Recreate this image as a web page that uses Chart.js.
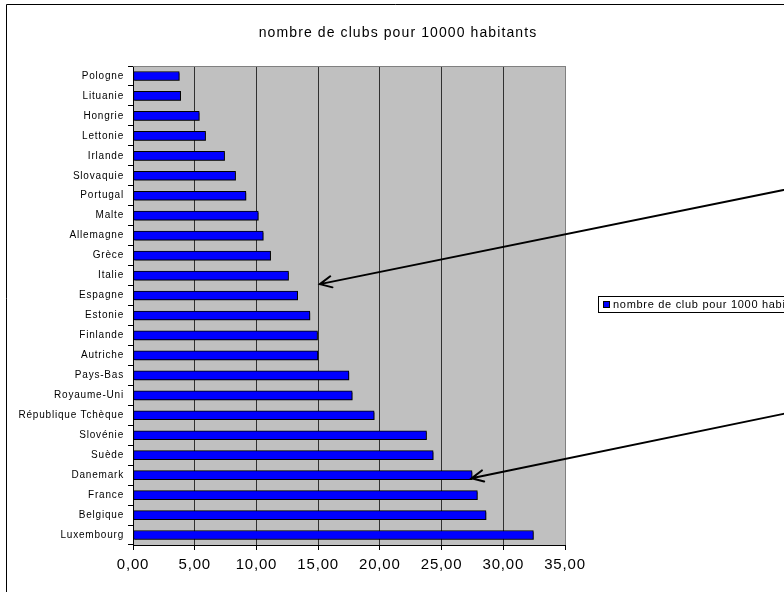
<!DOCTYPE html>
<html>
<head>
<meta charset="utf-8">
<script src="https://cdn.jsdelivr.net/npm/chart.js"></script>
<style>
  html, body { margin: 0; padding: 0; background: #fff; overflow: hidden; }
  #wrap { width: 784px; height: 592px; position: relative; }
</style>
</head>
<body>
<div id="wrap"><canvas id="chart" width="784" height="592"></canvas></div>
<script>
// Données (de haut en bas)
const pays = ['Pologne', 'Lituanie', 'Hongrie', 'Lettonie', 'Irlande', 'Slovaquie', 'Portugal', 'Malte',
  'Allemagne', 'Grèce', 'Italie', 'Espagne', 'Estonie', 'Finlande', 'Autriche', 'Pays-Bas',
  'Royaume-Uni', 'République Tchèque', 'Slovénie', 'Suède', 'Danemark', 'France', 'Belgique', 'Luxembourg'];
const clubs = [3.75, 3.86, 5.37, 5.88, 7.42, 8.31, 9.15, 10.15,
  10.55, 11.15, 12.6, 13.34, 14.33, 14.95, 14.98, 17.49,
  17.76, 19.54, 23.78, 24.32, 27.47, 27.9, 28.6, 32.44];
const titre = 'nombre de clubs pour 10000 habitants';
const serieLabel = 'nombre de club pour 1000 habitants';
const xTicks = [0, 5, 10, 15, 20, 25, 30, 35];

// Flèches (en unités du graphique : valeur, index de catégorie)
const flecheQueues = [[52.7, 5.71], [52.7, 16.93]];
const flechePointes = [[15.14, 10.43], [27.43, 20.16]];

const fmt = v => v.toFixed(2).replace('.', ',');

// Fond gris, cadre, titre, légende et flèches
const decor = {
  id: 'decor',
  beforeDraw(chart) {
    const ctx = chart.ctx;
    const a = chart.chartArea;
    ctx.save();
    ctx.fillStyle = '#c0c0c0';
    ctx.fillRect(a.left, a.top, a.right - a.left, a.bottom - a.top);
    ctx.restore();
    ctx.letterSpacing = '0.8px';
  },
  beforeDatasetsDraw(chart) {
    const ctx = chart.ctx;
    ctx.save();
    ctx.shadowColor = 'rgba(0,0,0,0.45)';
    ctx.shadowOffsetX = 1.5;
    ctx.shadowOffsetY = 1.5;
  },
  afterDatasetsDraw(chart) {
    chart.ctx.restore();
  },
  afterDraw(chart) {
    const ctx = chart.ctx;
    const a = chart.chartArea;
    const xs = chart.scales.x, ys = chart.scales.y;
    ctx.save();
    ctx.letterSpacing = '0px';

    // bord haut de la zone de tracé
    ctx.strokeStyle = '#808080';
    ctx.lineWidth = 1;
    ctx.beginPath();
    ctx.moveTo(a.left, a.top + 0.5);
    ctx.lineTo(a.right, a.top + 0.5);
    ctx.stroke();

    // cadre extérieur
    ctx.strokeStyle = '#000';
    ctx.beginPath();
    ctx.moveTo(6.5, 600);
    ctx.lineTo(6.5, 4.5);
    ctx.lineTo(800, 4.5);
    ctx.stroke();

    // titre
    ctx.fillStyle = '#000';
    ctx.font = '14px "Liberation Sans", Arial, sans-serif';
    ctx.letterSpacing = '1.1px';
    ctx.textAlign = 'center';
    ctx.textBaseline = 'middle';
    ctx.fillText(titre, 398, 33);

    // légende (coupée au bord droit)
    const ds = chart.data.datasets[0];
    ctx.strokeStyle = '#000';
    ctx.strokeRect(598.5, 296.5, 300, 16);
    ctx.fillStyle = ds.backgroundColor;
    ctx.fillRect(603.5, 301.5, 6, 6);
    ctx.strokeRect(603.5, 301.5, 6, 6);
    ctx.fillStyle = '#000';
    ctx.font = '11px "Liberation Sans", Arial, sans-serif';
    ctx.letterSpacing = '0.7px';
    ctx.textAlign = 'left';
    ctx.fillText(ds.label, 613, 305);

    // flèches
    ctx.strokeStyle = '#000';
    ctx.lineWidth = 2;
    ctx.lineCap = 'round';
    for (let i = 0; i < flecheQueues.length; i++) {
      const x0 = xs.getPixelForValue(flecheQueues[i][0]);
      const y0 = ys.getPixelForValue(flecheQueues[i][1]);
      const x1 = xs.getPixelForValue(flechePointes[i][0]);
      const y1 = ys.getPixelForValue(flechePointes[i][1]);
      const ang = Math.atan2(y1 - y0, x1 - x0);
      const L = 13, spread = 0.45;
      ctx.beginPath();
      ctx.moveTo(x0, y0);
      ctx.lineTo(x1, y1);
      ctx.moveTo(x1 - L * Math.cos(ang - spread), y1 - L * Math.sin(ang - spread));
      ctx.lineTo(x1, y1);
      ctx.lineTo(x1 - L * Math.cos(ang + spread), y1 - L * Math.sin(ang + spread));
      ctx.stroke();
    }
    ctx.restore();
  }
};

new Chart(document.getElementById('chart'), {
  type: 'bar',
  data: {
    labels: pays,
    datasets: [{
      label: serieLabel,
      data: clubs,
      backgroundColor: '#0000ff',
      borderColor: '#000',
      borderWidth: 1,
      borderSkipped: false,
      barThickness: 9
    }]
  },
  options: {
    indexAxis: 'y',
    responsive: false,
    animation: false,
    layout: { padding: { top: 66, right: 219, bottom: 0, left: 0 } },
    plugins: {
      legend: { display: false },
      title: { display: false },
      tooltip: { enabled: false }
    },
    scales: {
      x: {
        min: 0,
        max: 35,
        afterFit(scale) { scale.height = 47; },
        afterBuildTicks(scale) { scale.ticks = xTicks.map(v => ({ value: v })); },
        ticks: {
          callback: v => fmt(v),
          color: '#000',
          padding: 6,
          maxRotation: 0,
          font: { family: '"Liberation Sans", Arial, sans-serif', size: 15 }
        },
        grid: {
          color: ctx => (ctx.tick && ctx.tick.value === 35) ? '#808080' : '#303030',
          tickColor: '#000',
          tickLength: 5,
          lineWidth: 1
        },
        border: { color: '#000', width: 1 }
      },
      y: {
        afterFit(scale) { scale.width = 133; },
        ticks: {
          color: '#000',
          padding: 4,
          autoSkip: false,
          font: { family: '"Liberation Sans", Arial, sans-serif', size: 10 }
        },
        grid: {
          drawOnChartArea: false,
          color: '#000',
          tickLength: 5
        },
        border: { color: '#000', width: 1 }
      }
    }
  },
  plugins: [decor]
});
</script>
</body>
</html>
